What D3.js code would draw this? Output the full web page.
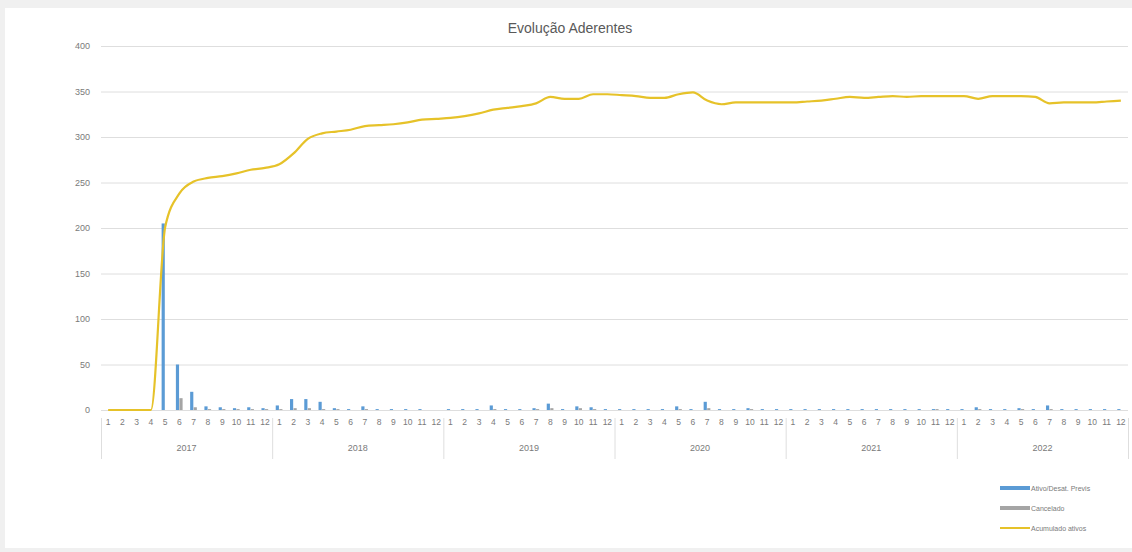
<!DOCTYPE html>
<html>
<head>
<meta charset="utf-8">
<script src="https://cdn.jsdelivr.net/npm/d3@7"></script>
<style>
  body { margin: 0; background: #f0f0f0; }
  svg { display: block; font-family: "Liberation Sans", "Open Sans", sans-serif; }
</style>
</head>
<body>
<svg id="chart" width="1132" height="552"></svg>
<script>
// data, one entry per month, 2017-01 .. 2022-12
const years = ['2017', '2018', '2019', '2020', '2021', '2022'];
const months = ['1', '2', '3', '4', '5', '6', '7', '8', '9', '10', '11', '12'];
const yTicks = [0, 50, 100, 150, 200, 250, 300, 350, 400];

const ativos = [
  0, 0, 0, 0, 205, 50, 20, 4, 3, 2, 3, 2,
  5, 12, 12, 9, 2, 1, 4, 1, 1, 1, 1, 0,
  1, 1, 1, 5, 1, 1, 2, 7, 1, 4, 3, 1,
  1, 1, 1, 1, 4, 1, 9, 1, 1, 2, 1, 1,
  1, 1, 1, 1, 1, 1, 1, 1, 1, 1, 1, 1,
  1, 3, 1, 1, 2, 1, 5, 1, 1, 1, 1, 1
];
const cancelados = [
  0, 0, 0, 0, 0, 13, 3, 1, 1, 1, 1, 1,
  1, 2, 2, 1, 1, 0, 1, 0, 0, 0, 0, 0,
  0, 0, 0, 1, 0, 0, 1, 2, 0, 2, 1, 0,
  0, 0, 0, 0, 1, 0, 2, 0, 0, 1, 0, 0,
  0, 0, 0, 0, 0, 0, 0, 0, 0, 0, 1, 0,
  0, 1, 0, 0, 1, 0, 1, 0, 0, 0, 0, 0
];
const acumulado = [
  0, 0, 0, 0, 201, 238, 251, 255, 257, 260, 264, 266,
  270, 282, 298, 304, 306, 308, 312, 313, 314, 316, 319, 320,
  321, 323, 326, 330, 332, 334, 337, 344, 342, 342, 347, 347,
  346, 345, 343, 343, 347, 349, 340, 336, 338, 338, 338, 338,
  338, 339, 340, 342, 344, 343, 344, 345, 344, 345, 345, 345,
  345, 342, 345, 345, 345, 344, 337, 338, 338, 338, 339, 340
];
const seriesNames = ['Ativo/Desat. Previs', 'Cancelado', 'Acumulado ativos'];

const colors = { ativo: '#5b9bd5', cancel: '#a5a5a5', acum: '#e6c229', grid: '#dedede', text: '#7a7a7a' };

const svg = d3.select('#chart');

// white chart panel
svg.append('rect')
  .attr('x', 5).attr('y', 8).attr('width', 1127).attr('height', 540)
  .attr('fill', '#fff');

const idx = d3.range(ativos.length);
const x = d3.scaleBand().domain(idx).range([101, 1128]).padding(0);
const xs = d3.scaleBand().domain(['a', 'c'])
  .range([x.bandwidth() * 0.25, x.bandwidth() * 0.72]).paddingInner(0.1);
const y = d3.scaleLinear().domain([0, 400]).range([410, 46]);

// gridlines
svg.append('g')
  .selectAll('line').data(yTicks).join('line')
  .attr('x1', 101).attr('x2', 1128)
  .attr('y1', d => y(d) + 0.5).attr('y2', d => y(d) + 0.5)
  .attr('stroke', colors.grid).attr('stroke-width', 1);

// y axis labels
const yAxis = svg.append('g')
  .attr('transform', 'translate(90,0)')
  .call(d3.axisLeft(y).tickValues(yTicks).tickSize(0).tickPadding(0));
yAxis.select('.domain').remove();
yAxis.selectAll('text').attr('fill', colors.text).style('font-size', '9px');

// month labels
const xAxis = svg.append('g')
  .attr('transform', 'translate(0,415)')
  .call(d3.axisBottom(x).tickSize(0).tickPadding(4).tickFormat(i => months[i % 12]));
xAxis.select('.domain').remove();
xAxis.selectAll('text').attr('fill', colors.text).style('font-size', '8.5px');

// year groups
const yearStart = years.map((yr, k) => k * 12);
svg.append('g')
  .selectAll('line').data(yearStart.concat([ativos.length])).join('line')
  .attr('x1', d => (d < ativos.length ? x(d) : x.range()[1]) + 0.5)
  .attr('x2', d => (d < ativos.length ? x(d) : x.range()[1]) + 0.5)
  .attr('y1', 418).attr('y2', 459)
  .attr('stroke', colors.grid);
svg.append('g')
  .selectAll('text').data(years).join('text')
  .attr('x', (d, k) => (x(k * 12) + x(k * 12 + 11) + x.bandwidth()) / 2)
  .attr('y', 451)
  .attr('text-anchor', 'middle')
  .attr('fill', colors.text)
  .style('font-size', '9px')
  .text(d => d);

// bars
svg.append('g')
  .selectAll('rect').data(idx).join('rect')
  .attr('x', i => x(i) + xs('a'))
  .attr('width', xs.bandwidth())
  .attr('y', i => y(ativos[i]))
  .attr('height', i => y(0) - y(ativos[i]))
  .attr('fill', colors.ativo);
svg.append('g')
  .selectAll('rect').data(idx).join('rect')
  .attr('x', i => x(i) + xs('c'))
  .attr('width', xs.bandwidth())
  .attr('y', i => y(cancelados[i]))
  .attr('height', i => y(0) - y(cancelados[i]))
  .attr('fill', colors.cancel);

// cumulative line
const line = d3.line()
  .x(i => x(i) + x.bandwidth() / 2)
  .y(i => y(acumulado[i]))
  .curve(d3.curveMonotoneX);
svg.append('path')
  .datum(idx)
  .attr('d', line)
  .attr('fill', 'none')
  .attr('stroke', colors.acum)
  .attr('stroke-width', 2.2)
  .attr('stroke-linejoin', 'round');

// title
svg.append('text')
  .attr('x', 570).attr('y', 33)
  .attr('text-anchor', 'middle')
  .attr('fill', '#595959')
  .style('font-size', '14px')
  .text('Evolução Aderentes');

// legend
const legendItems = [
  { name: seriesNames[0], color: colors.ativo, w: 4 },
  { name: seriesNames[1], color: colors.cancel, w: 4 },
  { name: seriesNames[2], color: colors.acum, w: 2 }
];
const lg = svg.append('g')
  .selectAll('g').data(legendItems).join('g')
  .attr('transform', (d, k) => `translate(1000,${488 + k * 20})`);
lg.append('line')
  .attr('x1', 0).attr('x2', 30).attr('y1', 0).attr('y2', 0)
  .attr('stroke', d => d.color).attr('stroke-width', d => d.w);
lg.append('text')
  .attr('x', 31).attr('y', 2.5)
  .attr('fill', colors.text)
  .style('font-size', '7px')
  .text(d => d.name);
</script>
</body>
</html>
